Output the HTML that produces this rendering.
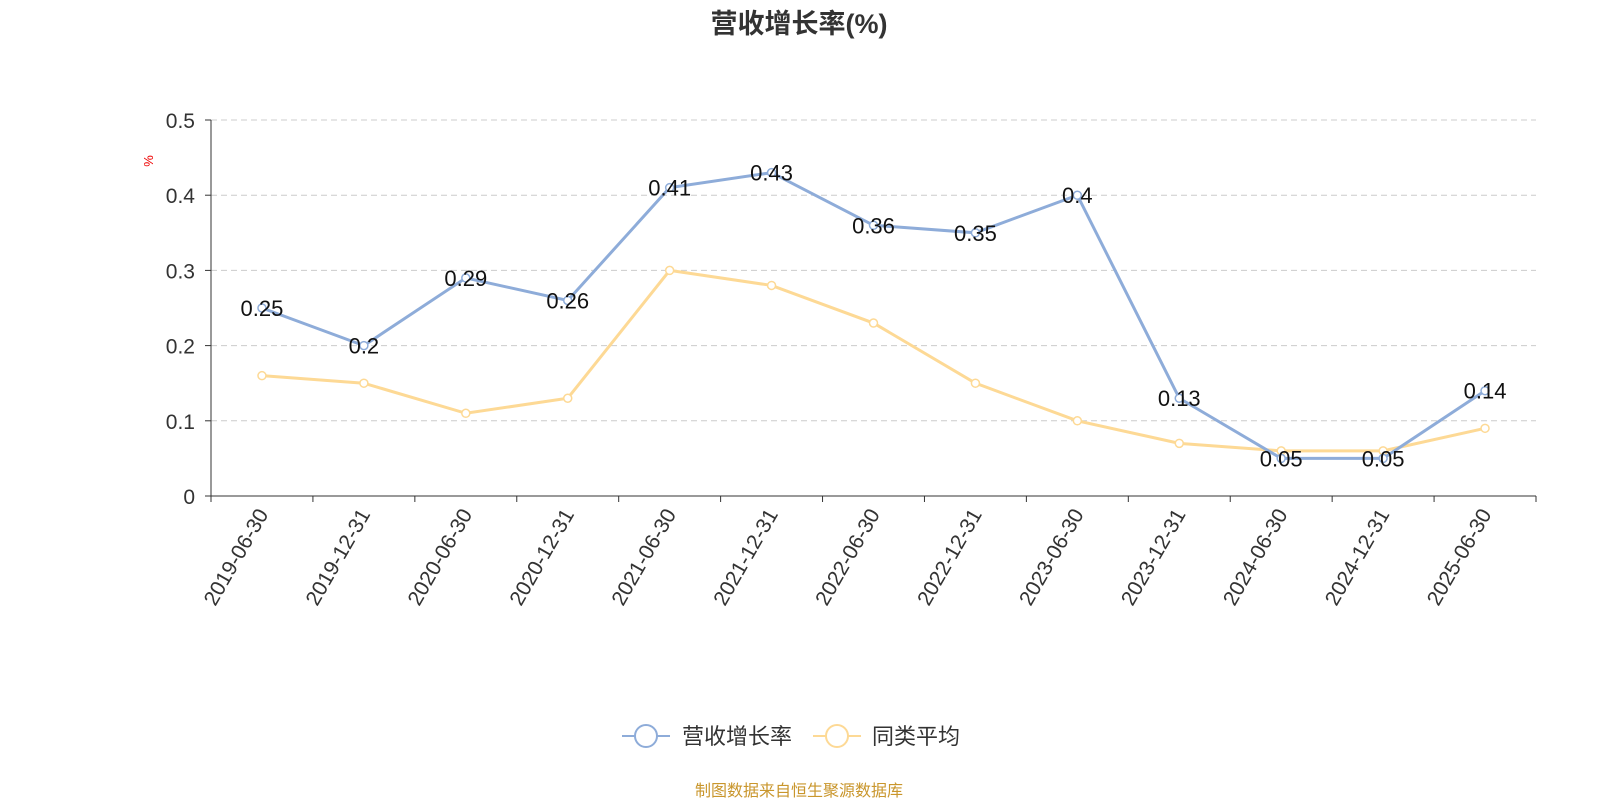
<!DOCTYPE html>
<html><head><meta charset="utf-8"><style>
body{margin:0;background:#fff;}
text{font-family:"Liberation Sans","Noto Sans CJK SC",sans-serif;}
</style></head><body>
<svg id="chart" width="1600" height="800" xmlns="http://www.w3.org/2000/svg">
<text x="799" y="33" text-anchor="middle" font-size="27" font-weight="bold" fill="#333">营收增长率(%)</text>
<text transform="translate(153,161) rotate(-90)" text-anchor="middle" font-size="13" fill="#e00">%</text>
<g id="grid"></g><g id="axes"></g><g id="series"></g>
<g>
<g><line x1="622" y1="736" x2="670" y2="736" stroke="#8eacd9" stroke-width="2"/><circle cx="646" cy="736" r="11" fill="#fff" stroke="#8eacd9" stroke-width="2"/><text x="682" y="744" font-size="22" fill="#333">营收增长率</text></g>
<g><line x1="813" y1="736" x2="861" y2="736" stroke="#fdd995" stroke-width="2"/><circle cx="837" cy="736" r="11" fill="#fff" stroke="#fdd995" stroke-width="2"/><text x="872" y="744" font-size="22" fill="#333">同类平均</text></g>
</g>
<text x="799" y="796" text-anchor="middle" font-size="16" fill="#c9962c">制图数据来自恒生聚源数据库</text>
</svg>
<script>
const categories=["2019-06-30","2019-12-31","2020-06-30","2020-12-31","2021-06-30","2021-12-31","2022-06-30","2022-12-31","2023-06-30","2023-12-31","2024-06-30","2024-12-31","2025-06-30"];
const revenueGrowth=[0.25,0.2,0.29,0.26,0.41,0.43,0.36,0.35,0.4,0.13,0.05,0.05,0.14];
const peerAverage=[0.16,0.15,0.11,0.13,0.30,0.28,0.23,0.15,0.10,0.07,0.06,0.06,0.09];
const yTicks=[0,0.1,0.2,0.3,0.4,0.5];
const NS="http://www.w3.org/2000/svg";
const X0=211,X1=1536,Y0=496,Y1=120,YMAX=0.5;
const bw=(X1-X0)/categories.length;
const xs=i=>X0+bw*(i+0.5);
const ys=v=>Y0-(v/YMAX)*(Y0-Y1);
function mk(tag,attrs,parent){const e=document.createElementNS(NS,tag);for(const k in attrs)e.setAttribute(k,attrs[k]);parent.appendChild(e);return e;}
const grid=document.getElementById('grid'),axes=document.getElementById('axes'),series=document.getElementById('series');
yTicks.forEach(t=>{const y=ys(t);
 if(t>0){const l=mk('line',{x1:X0,x2:X1,y1:y,y2:y,stroke:'#ccc','stroke-dasharray':'6,4'},grid);
 
 }
 const tk=mk('line',{x1:X0-6,x2:X0,y1:y,y2:y,stroke:'#333'},axes);
 
 
 const tx=mk('text',{x:X0-16,y:y+8,'text-anchor':'end','font-size':21,fill:'#333'},axes);tx.textContent=String(t);
 
 
});
const ya=mk('line',{x1:X0,x2:X0,y1:Y1,y2:Y0,stroke:'#333'},axes);


const xa=mk('line',{x1:X0,x2:X1,y1:Y0,y2:Y0,stroke:'#333'},axes);


for(let i=0;i<=categories.length;i++){const x=X0+bw*i;
 const tk=mk('line',{x1:x,x2:x,y1:Y0,y2:Y0+6,stroke:'#333'},axes);
 
 }
categories.forEach((c,i)=>{const x=xs(i);
 const t=mk('text',{transform:`translate(${x+7},${Y0+18}) rotate(-60)`,'text-anchor':'end','font-size':21,fill:'#333'},axes);t.textContent=c;
 
 });
function drawSeries(vals,color,name,labels){
 const p=mk('polyline',{points:vals.map((v,i)=>xs(i)+','+ys(v)).join(' '),fill:'none',stroke:color,'stroke-width':3},series);
 
 
 vals.forEach((v,i)=>{const c=mk('circle',{cx:xs(i),cy:ys(v),r:4,fill:'#fff',stroke:color,'stroke-width':1.5},series);
  
  
  if(labels){const t=mk('text',{x:xs(i),y:ys(v)+8,'text-anchor':'middle','font-size':22,fill:'#111'},series);t.textContent=String(v);
  
  }});
}
drawSeries(peerAverage,'#fdd995','peer-average',false);
drawSeries(revenueGrowth,'#8eacd9','revenue-growth',true);
</script>
</body></html>
